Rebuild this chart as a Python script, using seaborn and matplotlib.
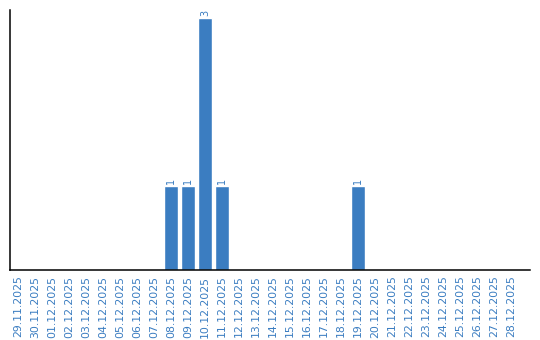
import matplotlib
matplotlib.use("Agg")
import matplotlib.pyplot as plt
import seaborn as sns
import pandas as pd

dates = ["29.11.2025", "30.11.2025", "01.12.2025", "02.12.2025", "03.12.2025",
         "04.12.2025", "05.12.2025", "06.12.2025", "07.12.2025", "08.12.2025",
         "09.12.2025", "10.12.2025", "11.12.2025", "12.12.2025", "13.12.2025",
         "14.12.2025", "15.12.2025", "16.12.2025", "17.12.2025", "18.12.2025",
         "19.12.2025", "20.12.2025", "21.12.2025", "22.12.2025", "23.12.2025",
         "24.12.2025", "25.12.2025", "26.12.2025", "27.12.2025", "28.12.2025"]
counts = [0, 0, 0, 0, 0, 0, 0, 0, 0, 1,
          1, 3, 1, 0, 0, 0, 0, 0, 0, 0,
          1, 0, 0, 0, 0, 0, 0, 0, 0, 0]

df = pd.DataFrame({"date": dates, "count": counts})

sns.set_style("white")
plt.rcParams['font.family'] = ['DejaVu Sans']

bar_color = "#3b7dc1"
label_color = "#3b7dc1"

fig = plt.figure(figsize=(5.4, 3.4), dpi=100)
ax = fig.add_axes([9.5 / 540, 70 / 340, (530 - 9.5) / 540, 260 / 340])

sns.barplot(data=df, x="date", y="count", color=bar_color, width=0.82,
            saturation=1, ax=ax, order=dates)

for i, v in enumerate(counts):
    if v > 0:
        ax.text(i, v + 0.03, str(v), rotation=90, ha="center", va="bottom",
                fontsize=7, color=label_color)

ax.set_xlim(-0.5, -0.5 + (530 - 9.5) / 17)
ax.set_ylim(0, 3.1)
ax.set_xlabel("")
ax.set_ylabel("")
ax.set_yticks([])
ax.tick_params(axis="x", length=0, pad=4, labelsize=7.8, labelcolor=label_color)
plt.setp(ax.get_xticklabels(), rotation=90)

for s in ["top", "right"]:
    ax.spines[s].set_visible(False)
for s in ["left", "bottom"]:
    ax.spines[s].set_color("black")
    ax.spines[s].set_linewidth(1.1)

fig.savefig("out.png", dpi=100)
